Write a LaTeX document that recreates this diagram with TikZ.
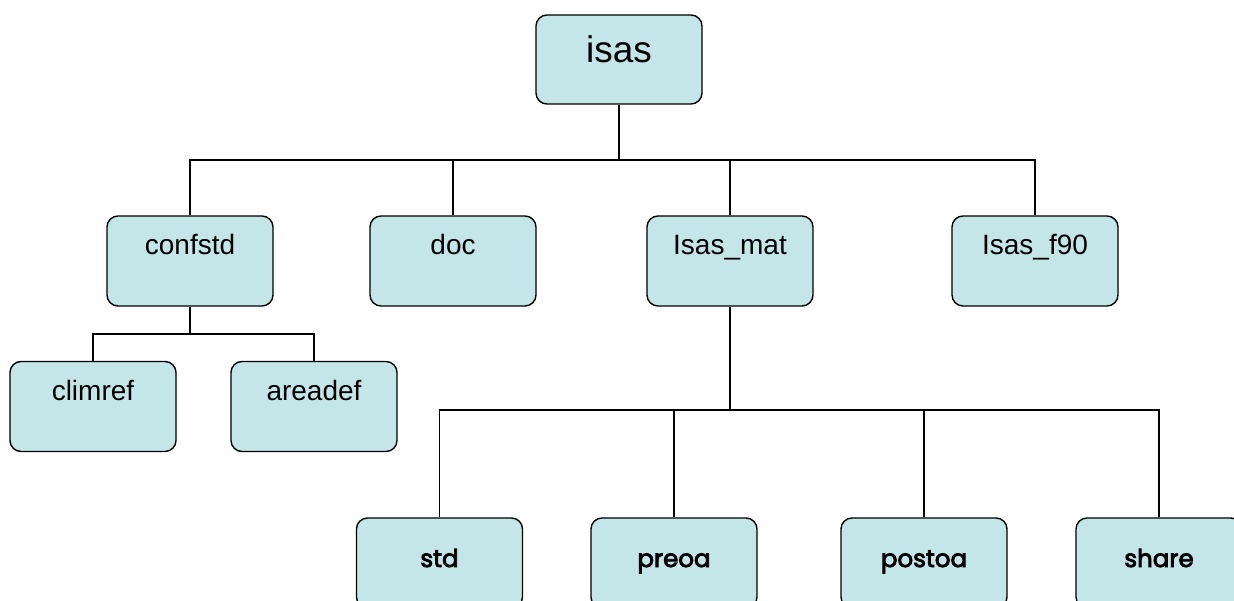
\documentclass[tikz,border=0pt]{standalone}
\usepackage{fontspec}
\setmainfont{Liberation Sans}
\newfontfamily\geo{Poppins}[FakeBold=3.5]
\definecolor{boxfill}{RGB}{196,230,232}
\begin{document}
\begin{tikzpicture}[x=1pt,y=-1pt,
  box/.style={draw=black, line width=1.4pt, fill=boxfill, rounded corners=11pt,
    minimum width=166pt, minimum height=90pt, inner xsep=0pt, inner ysep=0pt,
    text height=39pt, text depth=51pt, font=\fontsize{28}{30}\selectfont},
  topbox/.style={box, minimum height=89pt, text height=48pt, text depth=41pt,
    font=\fontsize{37}{40}\selectfont},
  leafbox/.style={box, text height=49pt, text depth=41pt,
    font=\geo\fontsize{24.5}{26}\selectfont},
  conn/.style={draw=black, line width=1.4pt}]
\clip (0,0) rectangle (1234,601);
\fill[white] (0,0) rectangle (1234,601);
\node[topbox] (isas) at (619,59.5) {isas};
\node[box] (confstd) at (190,261) {confstd};
\node[box] (doc) at (453,261) {doc};
\node[box] (mat) at (730,261) {Isas\_mat};
\node[box] (f90) at (1035,261) {Isas\_f90};
\node[box] (climref) at (93,406.5) {climref};
\node[box] (areadef) at (314,406.5) {areadef};
\node[leafbox] (std) at (439.5,563) {std};
\node[leafbox] (preoa) at (674,563) {preoa};
\node[leafbox] (postoa) at (924,563) {postoa};
\node[leafbox] (share) at (1159,563) {share};
\coordinate (j1) at (619,160);
\coordinate (j2) at (190,334);
\coordinate (j3) at (730,410);
\draw[conn] (isas.south) -- (j1);
\draw[conn] (confstd.north) |- (j1) -| (f90.north);
\draw[conn] (doc.north) -- (doc.north |- j1);
\draw[conn] (mat.north) -- (mat.north |- j1);
\draw[conn] (confstd.south) -- (j2);
\draw[conn] (climref.north) |- (j2) -| (areadef.north);
\draw[conn, line width=2pt] (mat.south) -- (j3);
\draw[conn] (std.north) |- (j3) -| (share.north);
\draw[conn] (preoa.north) -- (preoa.north |- j3);
\draw[conn] (postoa.north) -- (postoa.north |- j3);
\end{tikzpicture}
\end{document}
